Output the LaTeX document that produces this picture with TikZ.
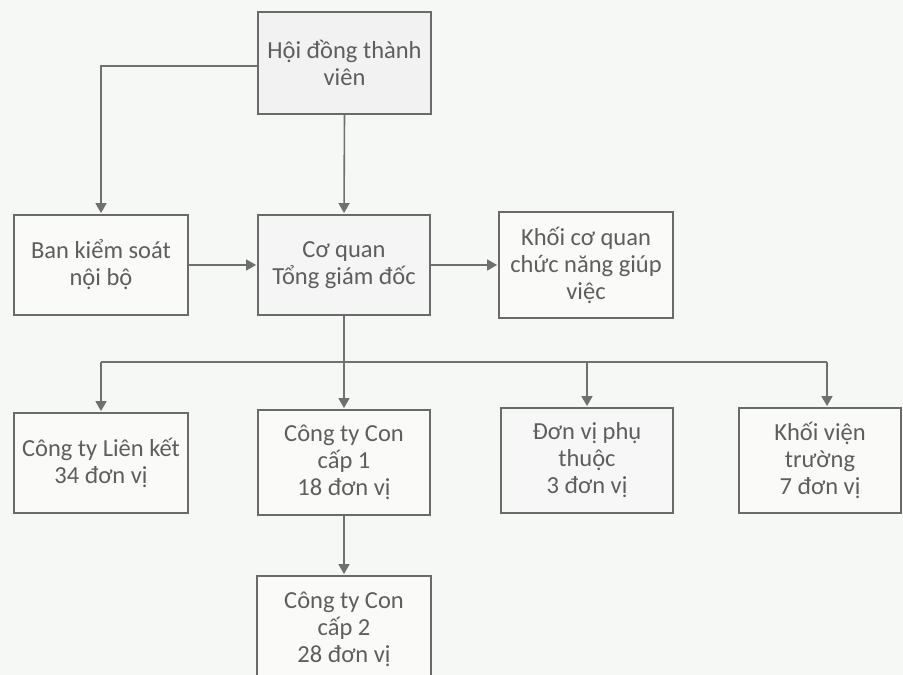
\documentclass[tikz,border=0pt]{standalone}
\usepackage{fontspec}
\setmainfont{Carlito}
\usetikzlibrary{arrows.meta}
\definecolor{bgc}{HTML}{F6F8F5}
\definecolor{boxc}{HTML}{FAFAF8}
\definecolor{edgec}{HTML}{6A6A6A}
\definecolor{txtc}{HTML}{5E5E5E}
\definecolor{linec}{HTML}{707070}
\tikzset{
  x=1pt, y=1pt,
  orgbox/.style={draw=edgec, line width=1.8pt, fill=boxc, text=txtc, align=center,
    inner sep=0pt, font=\fontsize{24.5}{27}\selectfont},
  conn/.style={draw=linec, line width=1.6pt},
  arr/.style={conn, -{Triangle[width=11pt,length=10pt]}, shorten >=1pt},
}
\begin{document}
\begin{tikzpicture}
\useasboundingbox (0,0) rectangle (903,675);
\fill[bgc] (0,0) rectangle (903,675);
\node[orgbox, minimum width=173, minimum height=102, fill=black!5] (hdtv) at (344.5,612) {Hội đồng thành\\viên};
\node[orgbox, minimum width=174, minimum height=100] (bks) at (101,410) {Ban kiểm soát\\nội bộ};
\node[orgbox, minimum width=172, minimum height=100, fill=black!4] (tgd) at (344,410) {Cơ quan\\Tổng giám đốc};
\node[orgbox, minimum width=174, minimum height=106] (kcq) at (586,410) {Khối cơ quan\\chức năng giúp\\việc};
\node[orgbox, minimum width=174, minimum height=100] (ctlk) at (101,212) {Công ty Liên kết\\34 đơn vị};
\node[orgbox, minimum width=172, minimum height=105] (ctc1) at (344,212.5) {Công ty Con\\cấp 1\\18 đơn vị};
\node[orgbox, minimum width=172, minimum height=105, fill=black!3] (dvpt) at (587,214.5) {Đơn vị phụ\\thuộc\\3 đơn vị};
\node[orgbox, minimum width=162, minimum height=105] (kvt) at (820,214.5) {Khối viện\\trường\\7 đơn vị};
\node[orgbox, minimum width=174, minimum height=106] (ctc2) at (344,46) {Công ty Con\\cấp 2\\28 đơn vị};
\coordinate (bus) at (344,313);
\coordinate (kvtin) at ([xshift=7]kvt.north);
\draw[arr] ([yshift=-3]hdtv.west) -| (bks.north);
\draw[arr] (hdtv.south) -- (tgd.north);
\draw[arr] (bks.east) -- (tgd.west);
\draw[arr] (tgd.east) -- (kcq.west);
\draw[conn] (tgd.south) -- (bus);
\draw[conn] (ctlk.north |- bus) -- (kvtin |- bus);
\draw[arr] (ctlk.north |- bus) -- (ctlk.north);
\draw[arr] (bus) -- (ctc1.north);
\draw[arr] (dvpt.north |- bus) -- (dvpt.north);
\draw[arr] (kvtin |- bus) -- (kvtin);
\draw[arr] (ctc1.south) -- (ctc2.north);
\end{tikzpicture}
\end{document}
